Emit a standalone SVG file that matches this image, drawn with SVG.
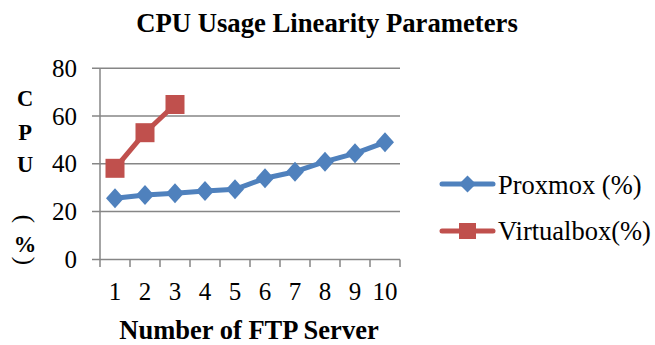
<svg xmlns="http://www.w3.org/2000/svg" width="655" height="345" viewBox="0 0 655 345">
<style>
.t{font-family:"Liberation Serif","Times New Roman",serif;fill:#000}
.b{font-weight:bold}
.grid{stroke:#868686;stroke-width:1.5;fill:none}
.px{stroke:#4F81BD;stroke-width:5;fill:none;stroke-linejoin:round;stroke-linecap:round}
.vb{stroke:#C0504D;stroke-width:5;fill:none;stroke-linejoin:round;stroke-linecap:round}
</style>
<defs>
<path id="dia" d="M0,-10 L9,0 L0,10 L-9,0 Z" fill="#4F81BD"/>
<rect id="sq" x="-9.5" y="-9.5" width="19" height="19" fill="#C0504D"/>
</defs>
<rect width="655" height="345" fill="#fff"/>
<text class="t b" x="327" y="32" font-size="26.7" text-anchor="middle">CPU Usage Linearity Parameters</text>
<g id="axes">
<path class="grid" d="M92,68.3H400M92,116H400M92,163.8H400M92,211.6H400M92,259.4H400M100,68.3V267"/>
<path class="grid" d="M130,259.4V267M160,259.4V267M190,259.4V267M220,259.4V267M250,259.4V267M280,259.4V267M310,259.4V267M340,259.4V267M370,259.4V267M400,259.4V267"/>
</g>
<g id="y-labels" class="t" font-size="25" text-anchor="end">
<text x="77" y="77">80</text>
<text x="77" y="125">60</text>
<text x="77" y="172">40</text>
<text x="77" y="220">20</text>
<text x="77" y="268">0</text>
</g>
<g id="x-labels" class="t" font-size="25" text-anchor="middle">
<text x="115" y="300">1</text>
<text x="145" y="300">2</text>
<text x="175" y="300">3</text>
<text x="205" y="300">4</text>
<text x="235" y="300">5</text>
<text x="265" y="300">6</text>
<text x="295" y="300">7</text>
<text x="325" y="300">8</text>
<text x="355" y="300">9</text>
<text x="385" y="300">10</text>
</g>
<g id="y-title" class="t b" font-size="22.5" text-anchor="middle">
<text x="25" y="106">C</text>
<text x="25" y="140">P</text>
<text x="25" y="172">U</text>
<text transform="translate(17,219) rotate(90)" font-weight="normal" font-size="25">(</text>
<text x="25" y="252">%</text>
<text transform="translate(17,261) rotate(90)" font-weight="normal" font-size="25">)</text>
</g>
<text class="t b" x="249" y="339" font-size="26.5" text-anchor="middle">Number of FTP Server</text>
<g id="connectors">
<polyline id="proxmox-line" class="px" points="115,198.3 145,195 175,193.3 205,191 235,189.3 265,178.3 295,171.7 325,161.7 355,153.3 385,142.3"/>
<polyline id="virtualbox-line" class="vb" points="115,168.3 145,132.7 175,104.5"/>
</g>
<g id="proxmox-markers">
<use href="#dia" x="115" y="198.3"/><use href="#dia" x="145" y="195"/><use href="#dia" x="175" y="193.3"/><use href="#dia" x="205" y="191"/><use href="#dia" x="235" y="189.3"/><use href="#dia" x="265" y="178.3"/><use href="#dia" x="295" y="171.7"/><use href="#dia" x="325" y="161.7"/><use href="#dia" x="355" y="153.3"/><use href="#dia" x="385" y="142.3"/>
</g>
<g id="virtualbox-markers">
<use href="#sq" x="115" y="168.3"/><use href="#sq" x="145" y="132.7"/><use href="#sq" x="175" y="104.5"/>
</g>
<g id="legend-proxmox">
<line class="px" x1="442" y1="184" x2="493" y2="184"/>
<path d="M467.5,175.5 L476,184 L467.5,192.5 L459,184 Z" fill="#4F81BD"/>
<text class="t" x="498" y="194" font-size="26.5">Proxmox (%)</text>
</g>
<g id="legend-virtualbox">
<line class="vb" x1="442" y1="231" x2="493" y2="231"/>
<rect x="459" y="223" width="17" height="16" fill="#C0504D"/>
<text class="t" x="498" y="240" font-size="26.5">Virtualbox(%)</text>
</g>
</svg>
